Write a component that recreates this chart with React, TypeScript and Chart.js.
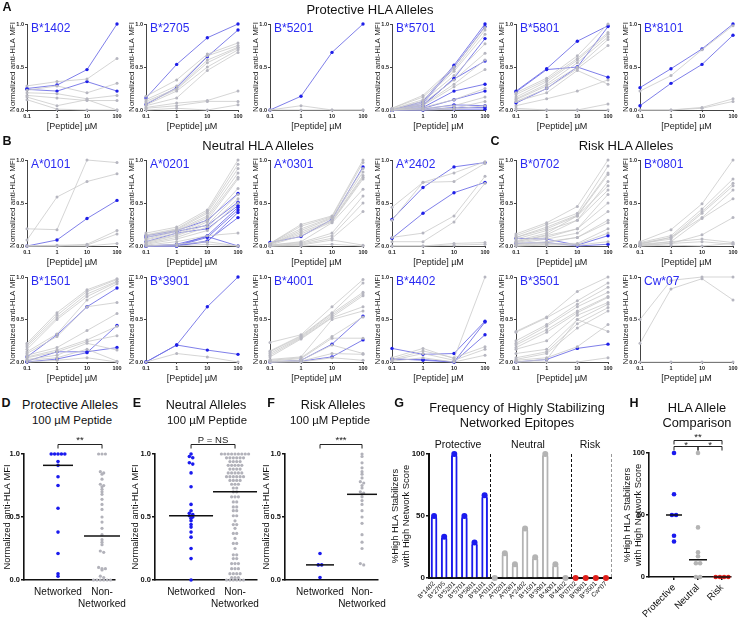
import React, { useEffect, useRef } from 'react';
import { Chart, registerables } from 'chart.js';
Chart.register(...registerables);

const FONT = "'Liberation Sans', Arial, Helvetica, sans-serif";

// ---------------- DATA ----------------
const DOSES = ['0.1', '1', '10', '100'];

// Panel A: protective alleles
const B1402_BLUE = [[0.25, 0.29, 0.47, 1.0], [0.24, 0.22, 0.33, 0.22]];
const B1402_GRAY = [[0.28, 0.33, 0.36, 0.6], [0.23, 0.28, 0.2, 0.31], [0.2, 0.19, 0.13, 0.17], [0.17, 0.14, 0.11, 0.11], [0.15, 0.05, 0.12, 0.0], [0.12, 0.01, 0.0, 0.0]];
const B2705_BLUE = [[0.14, 0.53, 0.84, 1.0], [0.065, 0.26, 0.62, 0.93]];
const B2705_GRAY = [[0.16, 0.35, 0.65, 0.78], [0.12, 0.28, 0.63, 0.75], [0.1, 0.25, 0.58, 0.73], [0.08, 0.24, 0.55, 0.72], [0.06, 0.22, 0.5, 0.7], [0.05, 0.14, 0.46, 0.67], [0.03, 0.08, 0.11, 0.22], [0.02, 0.05, 0.1, 0.1], [0.0, 0.02, 0.0, 0.06]];
const B5201_BLUE = [[0.0, 0.16, 0.67, 1.0]];
const B5201_GRAY = [[0.0, 0.05, 0.0, 0.0], [0.0, 0.0, 0.0, 0.0]];
const B5701_BLUE = [[0, 0.1, 0.52, 1.0], [0, 0.08, 0.5, 0.97], [0, 0.05, 0.37, 0.83], [0, 0.06, 0.36, 0.57], [0, 0.03, 0.22, 0.3], [0, 0.02, 0.12, 0.22], [0, 0.01, 0.06, 0.05], [0, 0.0, 0.03, 0.03], [0, 0.0, 0.01, 0.01]];
const B5701_GRAY = [[0.02, 0.17, 0.5, 0.96], [0.02, 0.15, 0.47, 0.93], [0.01, 0.12, 0.45, 0.88], [0.01, 0.1, 0.4, 0.77], [0, 0.08, 0.35, 0.66], [0, 0.06, 0.3, 0.58], [0, 0.05, 0.27, 0.47], [0, 0.03, 0.12, 0.25], [0, 0.02, 0.05, 0.15], [0, 0.01, 0.02, 0.1], [0, 0, 0.01, 0.05]];
const B5801_BLUE = [[0.22, 0.48, 0.8, 0.98], [0.21, 0.47, 0.5, 0.38], [0.08, 0.25, 0.5, 0.97]];
const B5801_GRAY = [[0.2, 0.37, 0.63, 1.0], [0.18, 0.35, 0.6, 0.9], [0.15, 0.33, 0.58, 0.88], [0.13, 0.3, 0.55, 0.85], [0.12, 0.28, 0.5, 0.82], [0.1, 0.25, 0.48, 0.75], [0.05, 0.13, 0.22, 0.35], [0.1, 0.2, 0.46, 0.3], [0, 0, 0, 0.07], [0.02, 0, 0, 0]];
const B8101_BLUE = [[0.26, 0.48, 0.71, 1.0], [0.05, 0.31, 0.53, 0.87]];
const B8101_GRAY = [[0.22, 0.4, 0.7, 0.98], [0, 0, 0.03, 0.13], [0, 0, 0.02, 0.1]];

// Panel B: neutral alleles
const A0101_BLUE = [[0.0, 0.07, 0.32, 0.53]];
const A0101_GRAY = [[0.2, 0.19, 1.0, 0.97], [0.07, 0.57, 0.75, 0.84], [0, 0, 0.02, 0.18], [0, 0.01, 0.01, 0.14], [0, 0, 0, 0.03]];
const A0201_BLUE = [[0.12, 0.18, 0.3, 0.61], [0.1, 0.17, 0.24, 0.51], [0.05, 0.15, 0.2, 0.47], [0, 0, 0.12, 0.45], [0, 0, 0.1, 0.42], [0, 0, 0.06, 0.33], [0, 0.02, 0.11, 0.0], [0, 0, 0.05, 0.39]];
const A0201_GRAY = [[0.15, 0.22, 0.42, 1.0], [0.13, 0.2, 0.4, 0.95], [0.12, 0.19, 0.38, 0.9], [0.1, 0.18, 0.35, 0.85], [0.08, 0.17, 0.33, 0.8], [0.07, 0.15, 0.3, 0.78], [0.05, 0.13, 0.28, 0.67], [0.04, 0.12, 0.25, 0.6], [0.03, 0.1, 0.22, 0.55], [0.02, 0.08, 0.18, 0.5], [0.01, 0.05, 0.12, 0.15], [0, 0.02, 0.05, 0], [0, 0, 0.02, 0]];
const A0301_BLUE = [[0.04, 0.11, 0.31, 0.92]];
const A0301_GRAY = [[0.03, 0.25, 0.35, 1.0], [0.03, 0.23, 0.34, 0.97], [0.03, 0.2, 0.33, 0.9], [0.02, 0.18, 0.32, 0.86], [0.02, 0.16, 0.3, 0.82], [0.02, 0.14, 0.29, 0.8], [0.01, 0.12, 0.28, 0.78], [0.01, 0.05, 0.27, 0.66], [0.01, 0.04, 0.15, 0.58], [0, 0.03, 0.12, 0.5], [0, 0.02, 0.09, 0.4], [0, 0.01, 0.07, 0.01], [0, 0, 0.02, 0]];
const A2402_BLUE = [[0.31, 0.68, 0.92, 0.97], [0.09, 0.38, 0.62, 0.74]];
const A2402_GRAY = [[0.45, 0.74, 0.85, 0.98], [0.3, 0.74, 0.75, 0.96], [0.1, 0.15, 0.35, 0.81], [0.05, 0.05, 0.28, 0.73], [0, 0, 0.03, 0.04], [0, 0, 0.01, 0.02]];
const B1501_BLUE = [[0.06, 0.32, 0.65, 0.87], [0.01, 0.12, 0.12, 0.17], [0, 0.035, 0.11, 0.43]];
const B1501_GRAY = [[0.22, 0.58, 0.85, 0.98], [0.2, 0.55, 0.83, 0.97], [0.18, 0.52, 0.8, 0.95], [0.15, 0.5, 0.77, 0.94], [0.12, 0.33, 0.73, 0.92], [0.1, 0.3, 0.65, 0.7], [0.08, 0.17, 0.37, 0.57], [0.06, 0.14, 0.26, 0.42], [0.05, 0.12, 0.24, 0.31], [0.03, 0.08, 0.22, 0.14], [0.02, 0.05, 0.15, 0.01], [0, 0.02, 0.05, 0]];
const B3901_BLUE = [[0, 0.2, 0.65, 1.0], [0, 0.2, 0.14, 0.09]];
const B3901_GRAY = [[0, 0.1, 0.06, 0]];
const B4001_BLUE = [[0, 0.02, 0.21, 0.54], [0, 0.01, 0.06, 0.26]];
const B4001_GRAY = [[0.23, 0.32, 0.65, 0.97], [0.13, 0.31, 0.58, 0.93], [0.12, 0.3, 0.57, 0.82], [0.1, 0.29, 0.55, 0.8], [0.08, 0.28, 0.53, 0.78], [0.06, 0.27, 0.52, 0.65], [0.03, 0.06, 0.5, 0.6], [0.02, 0.05, 0.3, 0.53], [0.01, 0.04, 0.28, 0.28], [0, 0.02, 0.2, 0.1], [0, 0.01, 0.1, 0.09], [0, 0, 0.05, 0.02]];
const B4402_BLUE = [[0.16, 0.09, 0.1, 0.48], [0.04, 0.02, 0.0, 0.47], [0.03, 0.03, 0.0, 0.32]];
const B4402_GRAY = [[0.05, 0.16, 0.04, 1.0], [0.03, 0.13, 0.05, 0.18], [0.02, 0.1, 0.02, 0.15], [0.01, 0.05, 0.0, 0.08]];

// Panel C: risk alleles
const B0702_BLUE = [[0.09, 0.08, 0.01, 0.12], [0.03, 0.04, 0.0, 0.02]];
const B0702_GRAY = [[0.14, 0.27, 0.46, 1.0], [0.12, 0.25, 0.38, 0.93], [0.1, 0.22, 0.36, 0.85], [0.1, 0.2, 0.35, 0.83], [0.08, 0.18, 0.3, 0.75], [0.06, 0.15, 0.35, 0.7], [0.05, 0.13, 0.3, 0.65], [0.05, 0.12, 0.2, 0.6], [0.04, 0.1, 0.2, 0.5], [0.03, 0.08, 0.15, 0.4], [0.02, 0.05, 0.1, 0.3], [0.02, 0.04, 0.1, 0.27], [0.01, 0.03, 0.03, 0.2], [0, 0.02, 0.02, 0.15], [0, 0.01, 0.01, 0.05]];
const B0801_BLUE: number[][] = [];
const B0801_GRAY = [[0.05, 0.19, 0.49, 1.0], [0.04, 0.12, 0.43, 0.78], [0.03, 0.1, 0.4, 0.73], [0.03, 0.08, 0.38, 0.7], [0.02, 0.1, 0.33, 0.65], [0.02, 0.05, 0.32, 0.55], [0.01, 0.03, 0.13, 0.33], [0.01, 0.05, 0.08, 0.04], [0, 0.03, 0.05, 0.02], [0, 0.01, 0, 0.03]];
const B3501_BLUE = [[0, 0.03, 0.16, 0.21]];
const B3501_GRAY = [[0.36, 0.53, 0.83, 1.0], [0.35, 0.52, 0.72, 0.93], [0.25, 0.44, 0.68, 0.88], [0.22, 0.42, 0.65, 0.82], [0.2, 0.38, 0.6, 0.77], [0.17, 0.35, 0.58, 0.76], [0.15, 0.25, 0.55, 0.7], [0.1, 0.15, 0.5, 0.68], [0.05, 0.12, 0.45, 0.64], [0.03, 0.1, 0.4, 0.6], [0.02, 0.05, 0.18, 0.44], [0, 0.03, 0.5, 0.36], [0, 0, 0, 0.05]];
const CW07_BLUE: number[][] = [];
const CW07_GRAY = [[0.5, 0.96, 1.0, 1.0], [0.22, 0.86, 0.98, 0.73], [0, 0, 0, 0]];

const PANEL_NAMES = [
  ['B*1402', 'B*2705', 'B*5201', 'B*5701', 'B*5801', 'B*8101'],
  ['A*0101', 'A*0201', 'A*0301', 'A*2402', 'B*0702', 'B*0801'],
  ['B*1501', 'B*3901', 'B*4001', 'B*4402', 'B*3501', 'Cw*07'],
];
const PANEL_GRAY = [
  [B1402_GRAY, B2705_GRAY, B5201_GRAY, B5701_GRAY, B5801_GRAY, B8101_GRAY],
  [A0101_GRAY, A0201_GRAY, A0301_GRAY, A2402_GRAY, B0702_GRAY, B0801_GRAY],
  [B1501_GRAY, B3901_GRAY, B4001_GRAY, B4402_GRAY, B3501_GRAY, CW07_GRAY],
];
const PANEL_BLUE = [
  [B1402_BLUE, B2705_BLUE, B5201_BLUE, B5701_BLUE, B5801_BLUE, B8101_BLUE],
  [A0101_BLUE, A0201_BLUE, A0301_BLUE, A2402_BLUE, B0702_BLUE, B0801_BLUE],
  [B1501_BLUE, B3901_BLUE, B4001_BLUE, B4402_BLUE, B3501_BLUE, CW07_BLUE],
];

// Panels D-F: 100 µM peptide
const NET_LABELS: (string | string[])[] = ['Networked', ['Non-', 'Networked']];
const D_NET = [1, 1, 1, 1, 1, 0.94, 0.91, 0.82, 0.75, 0.57, 0.38, 0.21, 0.05, 0.03];
const D_NON = [1, 1, 1, 0.86, 0.85, 0.84, 0.8, 0.76, 0.75, 0.74, 0.72, 0.7, 0.68, 0.64, 0.6, 0.56, 0.5, 0.46, 0.41, 0.36, 0.32, 0.3, 0.28, 0.23, 0.22, 0.1, 0.09, 0.09, 0.08, 0.03, 0.02, 0, 0, 0, 0, 0, 0];
const D_MED = [0.91, 0.35];
const E_NET = [1, 0.98, 0.97, 0.93, 0.92, 0.85, 0.74, 0.6, 0.55, 0.53, 0.52, 0.51, 0.5, 0.49, 0.47, 0.44, 0.42, 0.38, 0.34, 0.25, 0.17, 0];
const E_NON = [1, 1, 1, 1, 1, 1, 1, 1, 1, 0.97, 0.97, 0.97, 0.97, 0.97, 0.97, 0.94, 0.94, 0.94, 0.94, 0.91, 0.91, 0.91, 0.91, 0.91, 0.88, 0.88, 0.88, 0.88, 0.85, 0.85, 0.85, 0.85, 0.85, 0.82, 0.82, 0.82, 0.82, 0.82, 0.82, 0.79, 0.79, 0.79, 0.79, 0.76, 0.76, 0.76, 0.73, 0.73, 0.7, 0.7, 0.66, 0.66, 0.66, 0.62, 0.62, 0.58, 0.58, 0.55, 0.55, 0.51, 0.51, 0.47, 0.44, 0.44, 0.41, 0.37, 0.37, 0.33, 0.29, 0.29, 0.25, 0.2, 0.2, 0.17, 0.17, 0.13, 0.13, 0.13, 0.09, 0.09, 0.09, 0.05, 0.05, 0.05, 0.05, 0.02, 0.02, 0.02, 0, 0, 0, 0, 0, 0];
const E_MED = [0.51, 0.7];
const F_NET = [0.21, 0.12, 0.12, 0.02];
const F_NON = [1, 0.98, 0.93, 0.89, 0.86, 0.84, 0.81, 0.78, 0.77, 0.75, 0.73, 0.7, 0.69, 0.68, 0.66, 0.63, 0.6, 0.55, 0.5, 0.45, 0.36, 0.3, 0.25, 0.13, 0.12];
const F_MED = [0.12, 0.68];
const D_SIG = '**';
const E_SIG = 'P = NS';
const F_SIG = '***';

// Panel G
const G_LABELS = ['B*1402', 'B*2705', 'B*5201', 'B*5701', 'B*5801', 'B*8101', 'A*0101', 'A*0201', 'A*0301', 'A*2402', 'B*1501', 'B*3901', 'B*4001', 'B*4402', 'B*0702', 'B*0801', 'B*3501', 'Cw*07'];
const G_VALUES = [50, 33.3, 100, 50, 28.6, 66.7, 0, 20, 11.1, 40, 16.7, 100, 11.1, 0, 0, 0, 0, 0];
const G_GROUP = ['P', 'P', 'P', 'P', 'P', 'P', 'N', 'N', 'N', 'N', 'N', 'N', 'N', 'N', 'R', 'R', 'R', 'R'];
const G_GROUP_NAMES = ['Protective', 'Neutral', 'Risk'];

// Panel H
const H_CATS = ['Protective', 'Neutral', 'Risk'];
const H_PROT = [100, 66.7, 50, 50, 33.3, 28.6];
const H_NEUT = [100, 40, 20, 16.7, 11.1, 11.1, 0, 0];
const H_RISK = [0, 0, 0, 0];
const H_MED = [50, 13.9, 0];
const H_SIGS = ['**', '*', '*'];

// ---------------- STYLE ----------------
const GRAY_LINE = '#cacaca';
const GRAY_PT = '#b6b6c0';
const BLUE_LINE = '#7070e6';
const BLUE_PT = '#1e1ee8';
const LABEL_BLUE = '#2a2af2';
const DOT_BLUE = '#1a1aee';
const DOT_GRAY = '#b2b2ba';
const RED = '#e0201c';
const AXIS_THIN = '#444';
const GROUP_COLOR: Record<string, string> = { P: DOT_BLUE, N: '#b4b4b4', R: RED };

const COLS = [[27, 117], [146, 238], [270, 363], [392, 485], [516, 608], [640, 733]];
const ROWS = [[24, 110], [160, 246], [277, 362]];

// ---------------- HELPERS ----------------
function swarm(values: number[], tol: number): number[] {
  const idx = values.map((_, i) => i).sort((a, b) => values[b] - values[a]);
  const off = new Array(values.length).fill(0);
  let g: number[] = [];
  const flush = () => {
    g.forEach((id, k) => { off[id] = k - (g.length - 1) / 2; });
    g = [];
  };
  for (const id of idx) {
    if (g.length && values[g[0]] - values[id] > tol) flush();
    g.push(id);
  }
  flush();
  return off;
}

function ChartCanvas({ left, top, width, height, config }: any) {
  const ref = useRef<HTMLCanvasElement>(null);
  useEffect(() => {
    const chart = new Chart(ref.current as HTMLCanvasElement, config());
    return () => chart.destroy();
  }, []);
  return (
    <div style={{ position: 'absolute', left, top, width, height }}>
      <canvas ref={ref} width={width} height={height} style={{ width, height, display: 'block' }} />
    </div>
  );
}

function Txt({ x, y, children, size, bold, color = '#111', align = 'center' }: any) {
  return (
    <div style={{ position: 'absolute', left: x, top: y, transform: align === 'center' ? 'translate(-50%,-50%)' : 'translate(0,-50%)', fontFamily: FONT, fontSize: size, fontWeight: bold ? 700 : 400, color, whiteSpace: 'nowrap', lineHeight: 1 }}>
      {children}
    </div>
  );
}

const baseOpts = (padding: any) => ({
  animation: false,
  responsive: false,
  maintainAspectRatio: false,
  devicePixelRatio: 1,
  events: [],
  layout: { padding },
  plugins: { legend: { display: false }, tooltip: { enabled: false } },
});

function LinePanel({ row, col }: { row: number; col: number }) {
  const [l, r] = COLS[col];
  const [t, b] = ROWS[row];
  const YW = 21, XH = 22, PT = 4, PR = 5;
  const left = l - YW, top = t - PT, width = r - l + YW + PR, height = b - t + PT + XH;
  const gray = PANEL_GRAY[row][col];
  const blue = PANEL_BLUE[row][col];
  const config = () => {
    const mk = (d: number[], isBlue: boolean) => ({
      data: d,
      borderColor: isBlue ? BLUE_LINE : GRAY_LINE,
      borderWidth: isBlue ? 0.9 : 0.8,
      pointRadius: isBlue ? 1.7 : 1.5,
      pointBackgroundColor: isBlue ? BLUE_PT : GRAY_PT,
      pointBorderWidth: 0,
      tension: 0,
      clip: false,
      fill: false,
    });
    return {
      type: 'line',
      data: { labels: DOSES, datasets: [...gray.map((d) => mk(d, false)), ...blue.map((d) => mk(d, true))] },
      options: {
        ...baseOpts({ top: PT, right: PR, left: 0, bottom: 0 }),
        scales: {
          x: {
            offset: false,
            grid: { drawOnChartArea: false, drawTicks: true, tickLength: 2, color: AXIS_THIN },
            border: { color: AXIS_THIN, width: 1 },
            ticks: { font: { family: FONT, size: 5.5, weight: 'bold' }, color: '#222', padding: 1, maxRotation: 0, autoSkip: false },
            title: { display: true, text: '[Peptide] µM', font: { family: FONT, size: 9 }, color: '#222', padding: 0 },
            afterFit: (s: any) => { s.height = XH; s.paddingLeft = 0; s.paddingRight = 0; },
          },
          y: {
            min: 0, max: 1,
            grid: { drawOnChartArea: false, drawTicks: true, tickLength: 2, color: AXIS_THIN },
            border: { color: AXIS_THIN, width: 1 },
            ticks: { stepSize: 0.5, callback: (v: any) => Number(v).toFixed(1), font: { family: FONT, size: 5.5, weight: 'bold' }, color: '#222', padding: 1 },
            title: { display: true, text: 'Normalized anti-HLA MFI', font: { family: FONT, size: 8 }, color: '#222', padding: { top: 2, bottom: 0 } },
            afterFit: (s: any) => { s.width = YW; s.paddingTop = 0; s.paddingBottom = 0; },
          },
        },
      },
    };
  };
  return (
    <>
      <ChartCanvas left={left} top={top} width={width} height={height} config={config} />
      <Txt x={l + 4} y={t + 4} size={12} color={LABEL_BLUE} align="left">{PANEL_NAMES[row][col]}</Txt>
    </>
  );
}

const bracketPlugin = (brackets: any[], size: number) => ({
  id: 'brackets',
  afterDatasetsDraw(chart: any) {
    const { ctx, scales } = chart;
    ctx.save();
    ctx.strokeStyle = '#222';
    ctx.fillStyle = '#222';
    ctx.lineWidth = 1;
    ctx.font = `${size}px ${FONT}`;
    ctx.textAlign = 'center';
    ctx.textBaseline = 'alphabetic';
    for (const b of brackets) {
      const x1 = scales.x.getPixelForValue(b.from);
      const x2 = scales.x.getPixelForValue(b.to);
      const yy = Math.round(scales.y.getPixelForValue(b.y)) + 0.5;
      ctx.beginPath();
      ctx.moveTo(x1, yy + b.drop);
      ctx.lineTo(x1, yy);
      ctx.lineTo(x2, yy);
      ctx.lineTo(x2, yy + b.drop);
      ctx.stroke();
      ctx.fillText(b.label, (x1 + x2) / 2, yy - (b.dy ?? 1.5));
    }
    ctx.restore();
  },
});

function DotPanel(p: any) {
  const PR = p.padRight;
  const left = p.plotLeft - p.YW, top = p.plotTop - p.padTop;
  const width = p.plotRight - p.plotLeft + p.YW + PR;
  const height = p.plotBottom - p.plotTop + p.padTop + p.XH;
  const unit = (p.xmax - p.xmin) / (p.plotRight - p.plotLeft);
  const config = () => {
    const datasets: any[] = [];
    p.groups.forEach((g: any, gi: number) => {
      const off = swarm(g.values, g.tol);
      datasets.push({
        type: 'scatter',
        data: g.values.map((v: number, i: number) => ({ x: gi + 1 + off[i] * p.spacing * unit, y: v })),
        pointRadius: g.radius,
        pointBackgroundColor: g.color,
        pointBorderWidth: 0,
        clip: false,
        order: 2,
      });
    });
    p.groups.forEach((g: any, gi: number) => {
      datasets.push({
        type: 'scatter',
        showLine: true,
        data: [{ x: gi + 1 - g.medHalf * unit, y: g.median }, { x: gi + 1 + g.medHalf * unit, y: g.median }],
        borderColor: '#111',
        borderWidth: 1.5,
        pointRadius: 0,
        clip: false,
        order: 1,
      });
    });
    return {
      type: 'scatter',
      data: { datasets },
      plugins: [bracketPlugin(p.brackets, p.sigSize)],
      options: {
        ...baseOpts({ top: p.padTop, right: PR, left: 0, bottom: 0 }),
        scales: {
          x: {
            type: 'linear', min: p.xmin, max: p.xmax,
            afterBuildTicks: (s: any) => { s.ticks = p.labels.map((_: any, i: number) => ({ value: i + 1 })); },
            grid: { drawOnChartArea: false, drawTicks: p.xTicks, tickLength: 3, color: '#111', lineWidth: 1.5 },
            border: { color: '#111', width: 1.6 },
            ticks: {
              callback: (v: any) => p.labels[Math.round(v) - 1],
              font: { family: FONT, size: p.xFont }, color: '#111', padding: p.xPad,
              minRotation: p.rotate, maxRotation: p.rotate, autoSkip: false,
            },
            afterFit: (s: any) => { s.height = p.XH; s.paddingLeft = 0; s.paddingRight = 0; },
          },
          y: {
            min: 0, max: p.yMax,
            grid: { drawOnChartArea: false, drawTicks: true, tickLength: 3, color: '#111', lineWidth: 1.5 },
            border: { color: '#111', width: 1.6 },
            ticks: { stepSize: p.yStep, callback: p.yFmt, font: { family: FONT, size: p.tickFont, weight: 'bold' }, color: '#111', padding: 1 },
            title: { display: true, text: p.yTitle, font: { family: FONT, size: 9.4 }, color: '#111', padding: { top: p.yPad, bottom: 0 } },
            afterFit: (s: any) => { s.width = p.YW; s.paddingTop = 0; s.paddingBottom = 0; },
          },
        },
      },
    };
  };
  return <ChartCanvas left={left} top={top} width={width} height={height} config={config} />;
}

const fmt1 = (v: any) => Number(v).toFixed(1);
const fmt0 = (v: any) => String(Math.round(Number(v)));

function PanelDEF({ plotLeft, plotRight, xmin, xmax, YW, net, non, med, sig, medHalf }: any) {
  return (
    <DotPanel
      plotLeft={plotLeft} plotRight={plotRight} plotTop={454} plotBottom={580}
      xmin={xmin} xmax={xmax} YW={YW} yPad={1.4} XH={32} padTop={26} padRight={30}
      groups={[
        { values: net, color: DOT_BLUE, radius: 1.8, tol: 0.015, median: med[0], medHalf: medHalf[0] },
        { values: non, color: DOT_GRAY, radius: 1.6, tol: 0.015, median: med[1], medHalf: medHalf[1] },
      ]}
      labels={NET_LABELS} rotate={0} xFont={10} xPad={6} xTicks={false}
      yMax={1} yStep={0.5} yFmt={fmt1} yTitle="Normalized anti-HLA MFI" tickFont={7.5}
      spacing={3.4} sigSize={9.5}
      brackets={[{ from: 1, to: 2, y: 1.079, label: sig, drop: 4, dy: 1.5 }]}
    />
  );
}

function PanelG() {
  const PL = 429, PRt = 611, PTop = 454, PB = 578, YW = 41, PT = 4, PR = 5, XH = 40;
  const left = PL - YW, top = PTop - PT, width = PRt - PL + YW + PR, height = PB - PTop + PT + XH;
  const colors = G_GROUP.map((g) => GROUP_COLOR[g]);
  const config = () => ({
    type: 'bar',
    data: {
      labels: G_LABELS,
      datasets: [
        {
          type: 'line', data: G_VALUES, showLine: false, pointRadius: 3, pointBackgroundColor: colors,
          pointBorderWidth: 0, clip: false, order: 0,
        },
        {
          type: 'bar', data: G_VALUES.map((v) => (v > 0 ? v : null)), backgroundColor: '#fff', borderColor: colors,
          borderWidth: { top: 2, left: 2, right: 2, bottom: 0 }, borderSkipped: 'start',
          borderRadius: { topLeft: 3, topRight: 3, bottomLeft: 0, bottomRight: 0 }, barThickness: 6, order: 1,
        },
      ],
    },
    plugins: [{
      id: 'sep',
      afterDatasetsDraw(chart: any) {
        const { ctx, scales, chartArea } = chart;
        ctx.save();
        ctx.lineWidth = 1;
        ctx.setLineDash([3, 2]);
        const xs: { x: number; c: string }[] = [];
        for (let i = 1; i < G_GROUP.length; i++) {
          if (G_GROUP[i] !== G_GROUP[i - 1]) {
            xs.push({ x: (scales.x.getPixelForValue(i - 1) + scales.x.getPixelForValue(i)) / 2, c: '#111' });
          }
        }
        xs.push({ x: chartArea.right - 0.5, c: '#999' });
        for (const s of xs) {
          ctx.strokeStyle = s.c;
          ctx.beginPath();
          ctx.moveTo(Math.round(s.x) + 0.5, chartArea.top);
          ctx.lineTo(Math.round(s.x) + 0.5, chartArea.bottom);
          ctx.stroke();
        }
        ctx.restore();
      },
    }],
    options: {
      ...baseOpts({ top: PT, right: PR, left: 0, bottom: 0 }),
      scales: {
        x: {
          offset: true,
          grid: { display: true, drawOnChartArea: false, drawTicks: false, color: '#111' },
          border: { color: '#111', width: 2 },
          ticks: { font: { family: FONT, size: 6.5 }, color: '#111', padding: 2, minRotation: 45, maxRotation: 45, autoSkip: false },
          afterFit: (s: any) => { s.height = XH; s.paddingLeft = 0; s.paddingRight = 0; },
        },
        y: {
          min: 0, max: 100,
          grid: { drawOnChartArea: false, drawTicks: true, tickLength: 3, color: '#111', lineWidth: 1.5 },
          border: { color: '#111', width: 2 },
          ticks: { stepSize: 50, callback: fmt0, font: { family: FONT, size: 8, weight: 'bold' }, color: '#111', padding: 1 },
          title: { display: true, text: ['%High HLA Stabilizers', 'with High Network Score'], font: { family: FONT, size: 9.4 }, color: '#111', padding: { top: 1.3, bottom: 0 } },
          afterFit: (s: any) => { s.width = YW; s.paddingTop = 0; s.paddingBottom = 0; },
        },
      },
    },
  });
  return <ChartCanvas left={left} top={top} width={width} height={height} config={config} />;
}

function PanelH() {
  return (
    <DotPanel
      plotLeft={649} plotRight={731} plotTop={453} plotBottom={577}
      xmin={-0.042} xmax={3.375} YW={29} yPad={1.3} XH={42} padTop={25} padRight={5}
      groups={[
        { values: H_PROT, color: DOT_BLUE, radius: 2.3, tol: 3, median: H_MED[0], medHalf: 8 },
        { values: H_NEUT, color: '#b4b4b4', radius: 2.3, tol: 3, median: H_MED[1], medHalf: 9 },
        { values: H_RISK, color: RED, radius: 2.3, tol: 3, median: H_MED[2], medHalf: 8 },
      ]}
      labels={H_CATS} rotate={45} xFont={9.5} xPad={2} xTicks={true}
      yMax={100} yStep={50} yFmt={fmt0} yTitle={['%High HLA Stabilizers', 'with High Network Score']} tickFont={7.5}
      spacing={4.2} sigSize={9.5}
      brackets={[
        { from: 1, to: 3, y: 110.5, label: H_SIGS[0], drop: 4, dy: 1 },
        { from: 1, to: 2, y: 105.6, label: H_SIGS[1], drop: 4, dy: -1.5 },
        { from: 2, to: 3, y: 105.6, label: H_SIGS[2], drop: 4, dy: -1.5 },
      ]}
    />
  );
}

export default function App() {
  const cells: any[] = [];
  for (let r = 0; r < 3; r++) for (let c = 0; c < 6; c++) cells.push(<LinePanel key={`${r}-${c}`} row={r} col={c} />);
  return (
    <div style={{ position: 'absolute', left: 0, top: 0, width: 738, height: 620, background: '#fff', overflow: 'hidden' }}>
      {cells}
      <PanelDEF plotLeft={24} plotRight={115} xmin={0.227} xmax={2.295} YW={24} net={D_NET} non={D_NON} med={D_MED} sig={D_SIG} medHalf={[15, 18]} />
      <PanelDEF plotLeft={155} plotRight={257} xmin={0.18} xmax={2.5} YW={27} net={E_NET} non={E_NON} med={E_MED} sig={E_SIG} medHalf={[22, 22]} />
      <PanelDEF plotLeft={285} plotRight={378} xmin={0.167} xmax={2.38} YW={26} net={F_NET} non={F_NON} med={F_MED} sig={F_SIG} medHalf={[14, 15]} />
      <PanelG />
      <PanelH />

      <Txt x={7} y={7} size={12.5} bold>A</Txt>
      <Txt x={370} y={9} size={13}>Protective HLA Alleles</Txt>
      <Txt x={7} y={141} size={12.5} bold>B</Txt>
      <Txt x={258} y={145} size={13}>Neutral HLA Alleles</Txt>
      <Txt x={495} y={141} size={12.5} bold>C</Txt>
      <Txt x={626} y={145} size={13}>Risk HLA Alleles</Txt>

      <Txt x={6} y={403} size={12.5} bold>D</Txt>
      <Txt x={70} y={405} size={12.6}>Protective Alleles</Txt>
      <Txt x={72} y={421} size={11.4}>100 µM Peptide</Txt>
      <Txt x={137} y={403} size={12.5} bold>E</Txt>
      <Txt x={206} y={405} size={12.6}>Neutral Alleles</Txt>
      <Txt x={207} y={421} size={11.4}>100 µM Peptide</Txt>
      <Txt x={271} y={403} size={12.5} bold>F</Txt>
      <Txt x={333} y={405} size={12.6}>Risk Alleles</Txt>
      <Txt x={330} y={421} size={11.4}>100 µM Peptide</Txt>

      <Txt x={399} y={403} size={12.5} bold>G</Txt>
      <Txt x={517} y={408} size={12.8}>Frequency of Highly Stabilizing</Txt>
      <Txt x={517} y={423} size={12.8}>Networked Epitopes</Txt>
      <Txt x={458} y={444} size={10.5}>{G_GROUP_NAMES[0]}</Txt>
      <Txt x={528} y={444} size={10.5}>{G_GROUP_NAMES[1]}</Txt>
      <Txt x={590} y={444} size={10.5}>{G_GROUP_NAMES[2]}</Txt>

      <Txt x={634} y={403} size={12.5} bold>H</Txt>
      <Txt x={697} y={408} size={12.8}>HLA Allele</Txt>
      <Txt x={697} y={423} size={12.8}>Comparison</Txt>
    </div>
  );
}
